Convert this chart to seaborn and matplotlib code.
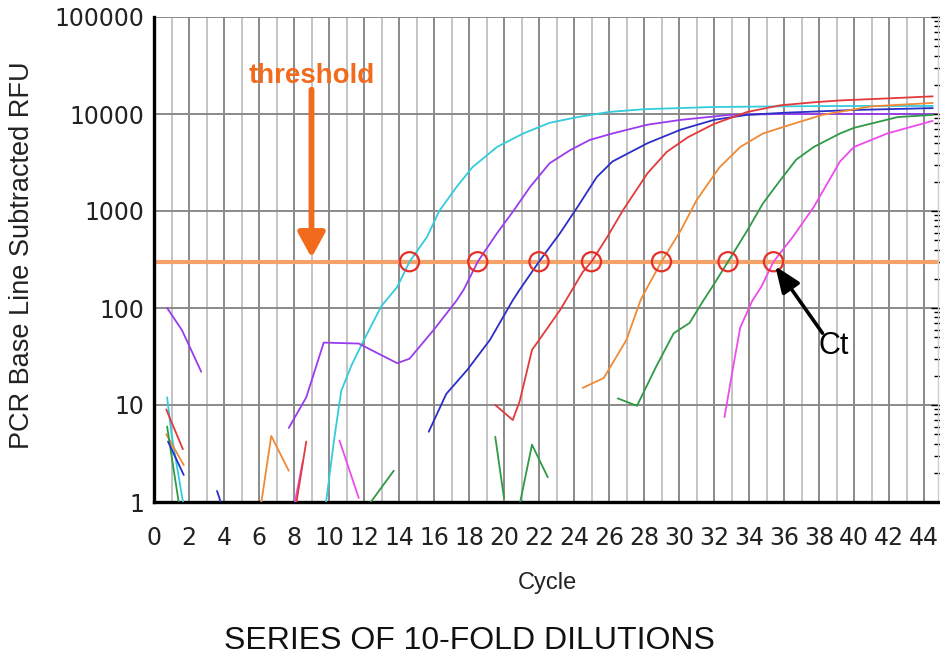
import matplotlib
matplotlib.use("Agg")
import matplotlib.pyplot as plt
from matplotlib.ticker import FixedLocator, MultipleLocator, LogLocator, NullFormatter
import seaborn as sns
import pandas as pd

# ---------------- data ----------------
threshold = 300
ct_cycles = [14.6, 18.5, 22.0, 25.0, 29.0, 32.8, 35.4]

cyan_x = [9.8, 10.3, 10.7, 11.3, 12.0, 13.0, 13.9, 14.6, 15.6, 16.3, 17.3, 18.2, 19.6, 21.1, 22.6, 24.2, 26.0, 28.0, 31.9, 36.0, 40.0, 44.5]
cyan_y = [0.9, 4.5, 14, 26, 47, 105, 165, 300, 540, 1000, 1780, 2830, 4570, 6300, 8100, 9300, 10500, 11200, 11800, 12000, 12100, 12100]

purple_x = [7.7, 8.7, 9.7, 11.7, 12.8, 13.9, 14.6, 16.0, 17.3, 17.7, 18.5, 19.6, 20.5, 21.5, 22.6, 23.8, 24.9, 26.2, 28.2, 30.1, 32.9, 36.0, 40.0, 44.5]
purple_y = [5.8, 12, 44, 43, 34, 27, 30, 60, 120, 155, 300, 590, 980, 1780, 3100, 4260, 5400, 6300, 7760, 8700, 9800, 10000, 10000, 10000]

blue_x = [15.7, 16.7, 17.9, 19.2, 20.5, 20.9, 22.0, 23.2, 24.2, 25.3, 26.2, 28.2, 30.1, 32.0, 33.9, 36.0, 40.0, 44.5]
blue_y = [5.3, 13, 23, 47, 120, 155, 300, 590, 1100, 2240, 3240, 5000, 6900, 8700, 9800, 10300, 11000, 11500]

red_x = [19.5, 20.5, 20.9, 21.6, 21.9, 23.2, 24.5, 25.0, 25.9, 26.8, 28.2, 29.3, 30.5, 32.0, 33.9, 35.8, 37.7, 39.2, 42.0, 44.5]
red_y = [10, 7, 11, 37, 44, 95, 235, 300, 540, 1020, 2450, 4070, 5750, 7900, 10500, 12300, 13200, 13800, 14500, 15200]

orange_x = [24.5, 25.7, 27.0, 27.8, 28.2, 29.0, 30.1, 31.0, 32.3, 33.5, 34.8, 36.7, 38.2, 41.0, 44.5]
orange_y = [15, 19, 47, 120, 165, 300, 630, 1290, 2800, 4570, 6300, 8100, 9800, 12000, 13000]

green_x = [26.5, 27.6, 28.7, 29.7, 30.6, 31.4, 31.9, 32.8, 33.9, 34.8, 35.8, 36.7, 37.7, 39.2, 40.0, 42.5, 44.5]
green_y = [11.7, 9.8, 25, 55, 70, 120, 165, 300, 630, 1200, 2090, 3390, 4570, 6300, 7200, 9300, 9800]

magenta_x = [32.6, 33.1, 33.5, 34.2, 34.7, 35.4, 36.5, 37.7, 39.2, 40.0, 41.9, 44.5]
magenta_y = [7.5, 25, 63, 120, 165, 300, 540, 1100, 3240, 4570, 6300, 8500]

# early baseline noise fragments: (colour key, cycles, values)
noise = [
    ("purple", [0.75, 1.6, 2.7], [100, 59, 22]),
    ("cyan", [0.75, 1.0, 1.7], [12, 5, 0.9]),
    ("red", [0.7, 1.65], [9, 3.5]),
    ("orange", [0.7, 1.7], [5, 2.4]),
    ("green", [0.75, 1.0, 1.45], [6, 3, 0.9]),
    ("blue", [0.8, 1.7], [4.2, 1.9]),
    ("blue", [3.6, 3.9], [1.3, 0.9]),
    ("orange", [6.1, 6.7, 7.7], [0.9, 4.8, 2.1]),
    ("magenta", [8.0, 8.5], [0.9, 2.6]),
    ("red", [8.1, 8.3, 8.7], [0.9, 1.5, 4.2]),
    ("magenta", [10.6, 11.7], [4.3, 1.1]),
    ("green", [12.3, 13.7], [0.95, 2.1]),
    ("green", [19.5, 20.0], [4.7, 1.1]),
    ("green", [20.9, 21.6, 22.5], [0.95, 3.9, 1.8]),
]

colors = {
    "cyan": "#33CCDD",
    "purple": "#9A3BEE",
    "blue": "#2A2FC8",
    "red": "#E23A3A",
    "orange": "#F08A35",
    "green": "#2E9A45",
    "magenta": "#EE4BEE",
}

main = [("cyan", cyan_x, cyan_y), ("purple", purple_x, purple_y), ("blue", blue_x, blue_y),
        ("red", red_x, red_y), ("orange", orange_x, orange_y), ("green", green_x, green_y),
        ("magenta", magenta_x, magenta_y)]

rows = []
palette = {}
for i, (c, xs, ys) in enumerate(noise + main):
    seg = f"s{i}"
    palette[seg] = colors[c]
    for x, y in zip(xs, ys):
        rows.append({"cycle": x, "rfu": y, "seg": seg})
df = pd.DataFrame(rows)

# ---------------- figure ----------------
sns.set_style("white")
plt.rcParams["font.family"] = ["DejaVu Sans"]

fig = plt.figure(figsize=(9.4, 6.62), dpi=100)
ax = fig.add_axes([154 / 940, 160 / 662, 784 / 940, 485 / 662])
ax.set_yscale("log")
ax.set_xlim(0, 44.8)
ax.set_ylim(1, 100000)

# grid
ax.xaxis.set_major_locator(MultipleLocator(2))
ax.xaxis.set_minor_locator(MultipleLocator(1))
ax.yaxis.set_major_locator(FixedLocator([1, 10, 100, 1000, 10000, 100000]))
ax.yaxis.set_minor_locator(LogLocator(base=10, subs=range(2, 10)))
ax.yaxis.set_minor_formatter(NullFormatter())
ax.grid(True, which="major", axis="x", color="#8a8a8a", lw=1.4)
ax.grid(True, which="minor", axis="x", color="#c4c4c4", lw=1.4)
ax.grid(True, which="major", axis="y", color="#8a8a8a", lw=1.4)
ax.set_axisbelow(True)

# threshold line
ax.axhline(threshold, color="#F5A26A", lw=3.0, zorder=2)

sns.lineplot(data=df, x="cycle", y="rfu", hue="seg", palette=palette, units="seg",
             estimator=None, sort=False, legend=False, lw=1.3, ax=ax, zorder=3)

sns.scatterplot(x=ct_cycles, y=[threshold] * len(ct_cycles), marker="o", s=190,
                fc="none", ec="#E5302A", linewidth=1.6, ax=ax, zorder=4)

# annotations
ax.annotate("", xy=(9.0, 330), xytext=(9.0, 17800),
            arrowprops=dict(arrowstyle="-|>,head_width=0.34,head_length=0.62",
                            lw=4.2, color="#F26A1B", mutation_scale=24, shrinkA=0, shrinkB=0),
            zorder=5)
ax.text(9.0, 24500, "threshold", color="#F26A1B", fontsize=20, fontweight="bold",
        family="Liberation Sans", ha="center", va="center", zorder=5)
ax.annotate("", xy=(35.5, 270), xytext=(38.2, 55),
            arrowprops=dict(arrowstyle="-|>,head_width=0.4,head_length=1.0",
                            lw=2.6, color="black", mutation_scale=16, shrinkA=0, shrinkB=0),
            zorder=5)
ax.text(38.85, 41, "Ct", color="black", fontsize=22, family="Liberation Sans",
        ha="center", va="center", zorder=5)

# spines & ticks
ax.spines["top"].set_visible(False)
ax.spines["right"].set_color("#cccccc")
ax.spines["right"].set_linewidth(1.0)
ax.spines["left"].set_color("black")
ax.spines["left"].set_linewidth(2.4)
ax.spines["bottom"].set_color("black")
ax.spines["bottom"].set_linewidth(2.4)

ax.tick_params(axis="x", which="major", direction="inout", length=10, width=1.6,
               color="black", labelsize=17, pad=12, labelcolor="#222222")
ax.tick_params(axis="x", which="minor", length=0)
ax.tick_params(axis="y", which="major", direction="inout", length=10, width=1.6,
               color="black", labelsize=17, pad=2, labelcolor="#222222", right=True)
ax.tick_params(axis="y", which="minor", direction="inout", length=6, width=1.2,
               color="black", right=True)
ax.set_xticks(list(range(0, 45, 2)))
ax.set_xticklabels([str(v) for v in range(0, 45, 2)])
ax.set_yticklabels(["1", "10", "100", "1000", "10000", "100000"])
# lighter ticks on the right-hand side
for tk in ax.yaxis.get_major_ticks() + ax.yaxis.get_minor_ticks():
    tk.tick2line.set_color("#9a9a9a")
    tk.tick2line.set_markeredgewidth(1.0)
ax.set_xlabel("")
ax.set_ylabel("")

fig.text(22 / 940, 1 - 255 / 662, "PCR Base Line Subtracted RFU", rotation=90,
         fontsize=19.5, family="Liberation Sans", ha="center", va="center", color="#222222")
fig.text(547 / 940, 1 - 583 / 662, "Cycle", fontsize=17, family="Liberation Sans",
         ha="center", va="center", color="#222222")
fig.text(469 / 940, 1 - 641 / 662, "SERIES OF 10-FOLD DILUTIONS", fontsize=23,
         family="Liberation Sans", ha="center", va="center", color="#111111")

fig.savefig("out.png", dpi=100)
